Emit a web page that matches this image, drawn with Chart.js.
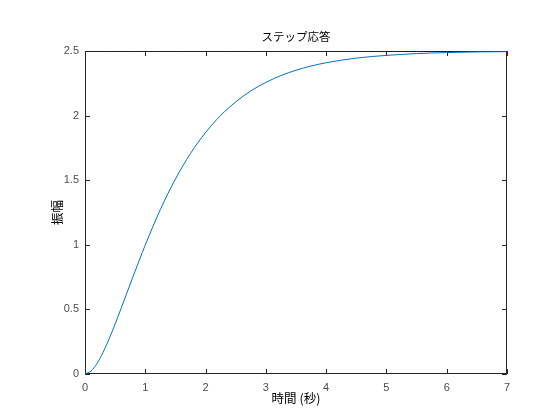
<!DOCTYPE html>
<html lang="ja">
<head>
<meta charset="UTF-8">
<title>ステップ応答</title>
<style>
  html, body { margin: 0; padding: 0; background: #fff; }
  #wrap { width: 560px; height: 420px; }
</style>
<script src="https://cdn.jsdelivr.net/npm/chart.js"></script>
</head>
<body>
<div id="wrap"><canvas id="c" width="560" height="420"></canvas></div>
<script>
// 図から読み取った値
const timeSec = [0, 0.1, 0.2, 0.3, 0.4, 0.5, 0.6, 0.7, 0.8, 0.9, 1, 1.25, 1.5, 1.75, 2, 2.25, 2.5, 2.75, 3, 3.25, 3.5, 3.75, 4, 4.25, 4.5, 4.75, 5, 5.5, 6, 6.5, 7];
const amplitude = [0, 0.023, 0.082, 0.168, 0.272, 0.387, 0.509, 0.634, 0.758, 0.880, 0.999, 1.273, 1.509, 1.707, 1.869, 2.001, 2.106, 2.191, 2.257, 2.310, 2.351, 2.384, 2.409, 2.429, 2.445, 2.457, 2.466, 2.480, 2.488, 2.493, 2.495];
const steadyTime = [0, 7];
const steadyValue = [2.5, 2.5];
const xTicks = [0, 1, 2, 3, 4, 5, 6, 7];
const yTicks = [0, 0.5, 1, 1.5, 2, 2.5];

const titleText = 'ステップ応答';
const xLabel = '時間 (秒)';
const yLabel = '振幅';

const axisColor = '#262626';
const labelColor = '#4d4d4d';
const cjkFont = '"Noto Sans CJK JP", "Noto Sans", sans-serif';
const numFont = '"Liberation Sans", Arial, sans-serif';

// MATLAB風の枠・内向き目盛り (データより先に描く)
const boxPlugin = {
  id: 'box',
  beforeDatasetsDraw(chart) {
    const { ctx, chartArea: a, scales } = chart;
    ctx.save();
    ctx.strokeStyle = axisColor;
    ctx.lineWidth = 1;
    ctx.beginPath();
    ctx.rect(a.left + 0.5, a.top + 0.5, a.right - a.left - 1, a.bottom - a.top - 1);
    ctx.stroke();
    const len = 5;
    ctx.beginPath();
    xTicks.forEach(v => {
      const px = Math.round(scales.x.getPixelForValue(v)) + 0.5;
      ctx.moveTo(px, a.bottom); ctx.lineTo(px, a.bottom - len);
      ctx.moveTo(px, a.top); ctx.lineTo(px, a.top + len);
    });
    yTicks.forEach(v => {
      const py = Math.round(scales.y.getPixelForValue(v)) + 0.5;
      ctx.moveTo(a.left, py); ctx.lineTo(a.left + len, py);
      ctx.moveTo(a.right, py); ctx.lineTo(a.right - len, py);
    });
    ctx.stroke();
    ctx.restore();
  },
  afterDraw(chart) {
    const { ctx, chartArea: a } = chart;
    ctx.save();
    ctx.fillStyle = '#000';
    ctx.textAlign = 'center';
    ctx.textBaseline = 'middle';
    const cx = (a.left + a.right) / 2;
    ctx.font = '11.5px ' + cjkFont;
    ctx.fillText(titleText, cx, a.top - 14);
    ctx.font = '12.5px ' + cjkFont;
    ctx.fillText(xLabel, cx, a.bottom + 24);
    ctx.translate(a.left - 28, (a.top + a.bottom) / 2);
    ctx.rotate(-Math.PI / 2);
    ctx.fillText(yLabel, 0, 0);
    ctx.restore();
  }
};

new Chart(document.getElementById('c'), {
  type: 'line',
  data: {
    datasets: [
      {
        data: timeSec.map((t, i) => ({ x: t, y: amplitude[i] })),
        borderColor: '#0072BD',
        borderWidth: 1,
        pointRadius: 0,
        cubicInterpolationMode: 'monotone',
        fill: false
      },
      {
        data: steadyTime.map((t, i) => ({ x: t, y: steadyValue[i] })),
        borderColor: '#000',
        borderWidth: 1,
        borderDash: [1, 2],
        pointRadius: 0,
        fill: false
      }
    ]
  },
  options: {
    responsive: false,
    animation: false,
    devicePixelRatio: 1,
    layout: { padding: { left: 0, top: 51, right: 53, bottom: 0 } },
    plugins: { legend: { display: false }, tooltip: { enabled: false } },
    scales: {
      x: {
        type: 'linear',
        min: 0, max: 7,
        afterBuildTicks(s) { s.ticks = xTicks.map(v => ({ value: v })); },
        afterFit(s) { s.height = 46; },
        grid: { display: false, drawTicks: false },
        border: { display: false },
        ticks: { color: labelColor, padding: 7, maxRotation: 0, font: { family: numFont, size: 11 },
                 callback: v => String(v) }
      },
      y: {
        type: 'linear',
        min: 0, max: 2.5,
        afterBuildTicks(s) { s.ticks = yTicks.map(v => ({ value: v })); },
        afterFit(s) { s.width = 85; },
        grid: { display: false, drawTicks: false },
        border: { display: false },
        ticks: { color: labelColor, padding: 6, font: { family: numFont, size: 11 },
                 callback: v => String(v) }
      }
    }
  },
  plugins: [boxPlugin]
});
</script>
</body>
</html>
